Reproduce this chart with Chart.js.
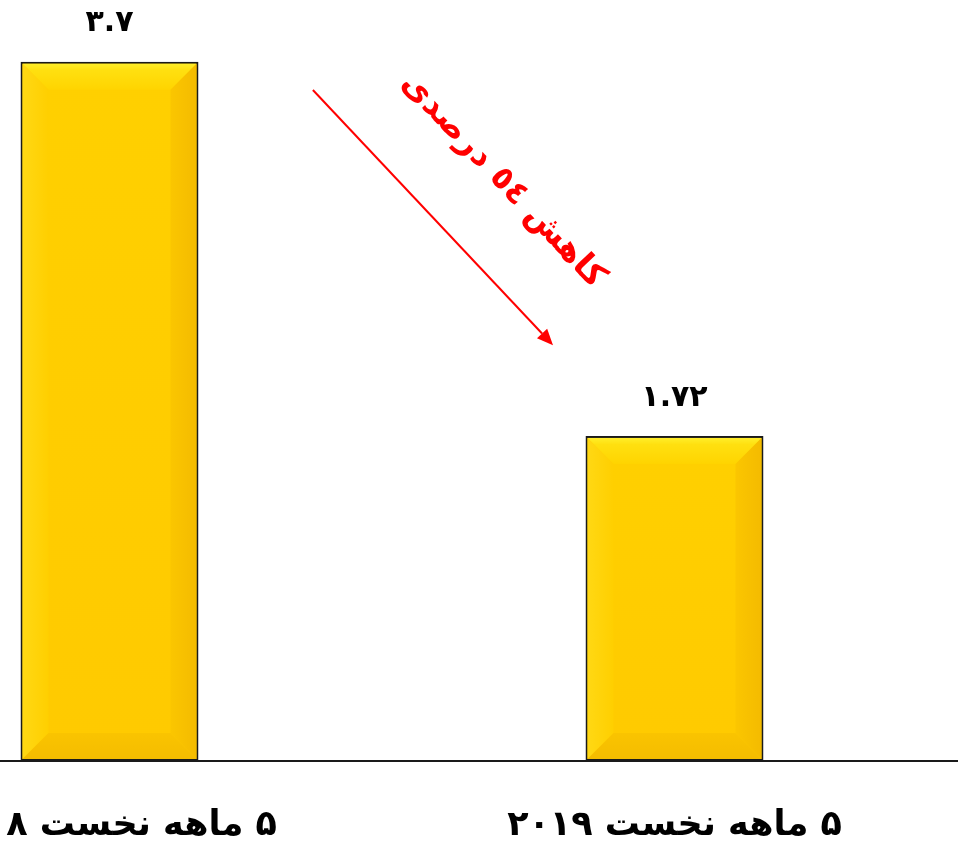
<!DOCTYPE html>
<html>
<head>
<meta charset="utf-8">
<script src="https://cdn.jsdelivr.net/npm/chart.js@4.4.1/dist/chart.umd.min.js"></script>
<style>
  html, body { margin: 0; padding: 0; background: #ffffff; overflow: hidden; width: 967px; height: 845px; }
  #wrap { position: absolute; left: -173px; top: 0; width: 1140px; height: 845px; }
</style>
</head>
<body>
<div id="wrap"><canvas id="c" dir="rtl"></canvas></div>
<script>
// ---- data ----
const categories = ['۵ ماهه نخست ۲۰۱۸', '۵ ماهه نخست ۲۰۱۹'];
const values = [3.7, 1.72];
const annotationText = 'کاهش ٥٤ درصدی';
// arrow anchored in data space: [category position, value]
const arrowFrom = [0.36, 3.55];
const arrowTo = [0.785, 2.2];

const FONT = '"DejaVu Sans", sans-serif';
const toFa = s => String(s).replace(/[0-9]/g, d => '۰۱۲۳۴۵۶۷۸۹'[d]);

const bevelPlugin = {
  id: 'bevel',
  afterDatasetsDraw(chart) {
    const ctx = chart.ctx;
    const meta = chart.getDatasetMeta(0);
    meta.data.forEach((el, i) => {
      const p = el.getProps(['x', 'y', 'base', 'width'], true);
      const l = p.x - p.width / 2 + 2, r = p.x + p.width / 2 - 2;
      const t = p.y + 2, b = p.base - 2;
      const s = 26;
      ctx.save();
      let g = ctx.createLinearGradient(0, t, 0, b);
      g.addColorStop(0, '#FFD000'); g.addColorStop(1, '#FFCA00');
      ctx.fillStyle = g;
      ctx.fillRect(l, t, r - l, b - t);
      const poly = (pts, fill) => {
        ctx.beginPath(); ctx.moveTo(pts[0][0], pts[0][1]);
        for (let k = 1; k < pts.length; k++) ctx.lineTo(pts[k][0], pts[k][1]);
        ctx.closePath(); ctx.fillStyle = fill; ctx.fill();
      };
      g = ctx.createLinearGradient(0, t, 0, t + s);
      g.addColorStop(0, '#FFEE2A'); g.addColorStop(0.25, '#FFE010'); g.addColorStop(1, '#FFD400');
      poly([[l, t], [r, t], [r - s, t + s], [l + s, t + s]], g);
      g = ctx.createLinearGradient(l, 0, l + s, 0);
      g.addColorStop(0, '#FFD814'); g.addColorStop(1, '#FFCF00');
      poly([[l, t], [l + s, t + s], [l + s, b - s], [l, b]], g);
      g = ctx.createLinearGradient(r - s, 0, r, 0);
      g.addColorStop(0, '#FBC600'); g.addColorStop(1, '#F4BB00');
      poly([[r, t], [r, b], [r - s, b - s], [r - s, t + s]], g);
      g = ctx.createLinearGradient(0, b - s, 0, b);
      g.addColorStop(0, '#FAC400'); g.addColorStop(1, '#F4BC00');
      poly([[l, b], [l + s, b - s], [r - s, b - s], [r, b]], g);
      // value label
      ctx.fillStyle = '#000';
      ctx.font = 'bold 30px ' + FONT;
      ctx.textAlign = 'center';
      ctx.textBaseline = 'middle';
      ctx.direction = 'ltr';
      ctx.fillText(toFa(values[i]), p.x, p.y - 38);
      ctx.restore();
    });
  },
  afterDraw(chart) {
    const ctx = chart.ctx;
    const xs = chart.scales.x, ys = chart.scales.y;
    const x1 = xs.getPixelForValue(arrowFrom[0]), y1 = ys.getPixelForValue(arrowFrom[1]);
    const x2 = xs.getPixelForValue(arrowTo[0]), y2 = ys.getPixelForValue(arrowTo[1]);
    const ang = Math.atan2(y2 - y1, x2 - x1);
    ctx.save();
    ctx.strokeStyle = '#FF0000'; ctx.fillStyle = '#FF0000'; ctx.lineWidth = 2;
    const hl = 16, hw = 7;
    const bx = x2 - hl * Math.cos(ang), by = y2 - hl * Math.sin(ang);
    ctx.beginPath(); ctx.moveTo(x1, y1); ctx.lineTo(bx, by); ctx.stroke();
    ctx.beginPath();
    ctx.moveTo(x2, y2);
    ctx.lineTo(bx + hw * Math.sin(ang), by - hw * Math.cos(ang));
    ctx.lineTo(bx - hw * Math.sin(ang), by + hw * Math.cos(ang));
    ctx.closePath(); ctx.fill();
    const len = Math.hypot(x2 - x1, y2 - y1);
    const along = 0.56 * len, off = 76;
    const cx = x1 + along * Math.cos(ang) + off * Math.sin(ang);
    const cy = y1 + along * Math.sin(ang) - off * Math.cos(ang);
    ctx.translate(cx, cy); ctx.rotate(ang);
    ctx.font = 'bold 33px ' + FONT;
    ctx.textAlign = 'center'; ctx.textBaseline = 'middle';
    ctx.direction = 'rtl';
    ctx.fillText(annotationText, 0, 0);
    ctx.restore();
  }
};

new Chart(document.getElementById('c'), {
  type: 'bar',
  data: {
    labels: categories,
    datasets: [{
      data: values,
      backgroundColor: '#FFCC00',
      borderColor: '#1a1a1a',
      borderWidth: 2.5,
      borderSkipped: false,
      barPercentage: 0.315,
      categoryPercentage: 1
    }]
  },
  options: {
    responsive: true,
    maintainAspectRatio: false,
    animation: false,
    devicePixelRatio: 1,
    layout: { padding: { top: 5, right: 10, left: 0, bottom: 0 } },
    plugins: { legend: { display: false }, tooltip: { enabled: false } },
    scales: {
      x: {
        grid: { display: false, drawTicks: false },
        border: { display: true, color: '#1a1a1a', width: 2 },
        ticks: { color: '#000', font: { family: FONT, size: 35, weight: 'bold' }, padding: 44, maxRotation: 0, autoSkip: false },
        afterFit: s => { s.height = 84; }
      },
      y: { display: false, min: 0, max: 4 }
    }
  },
  plugins: [bevelPlugin]
});
</script>
</body>
</html>
